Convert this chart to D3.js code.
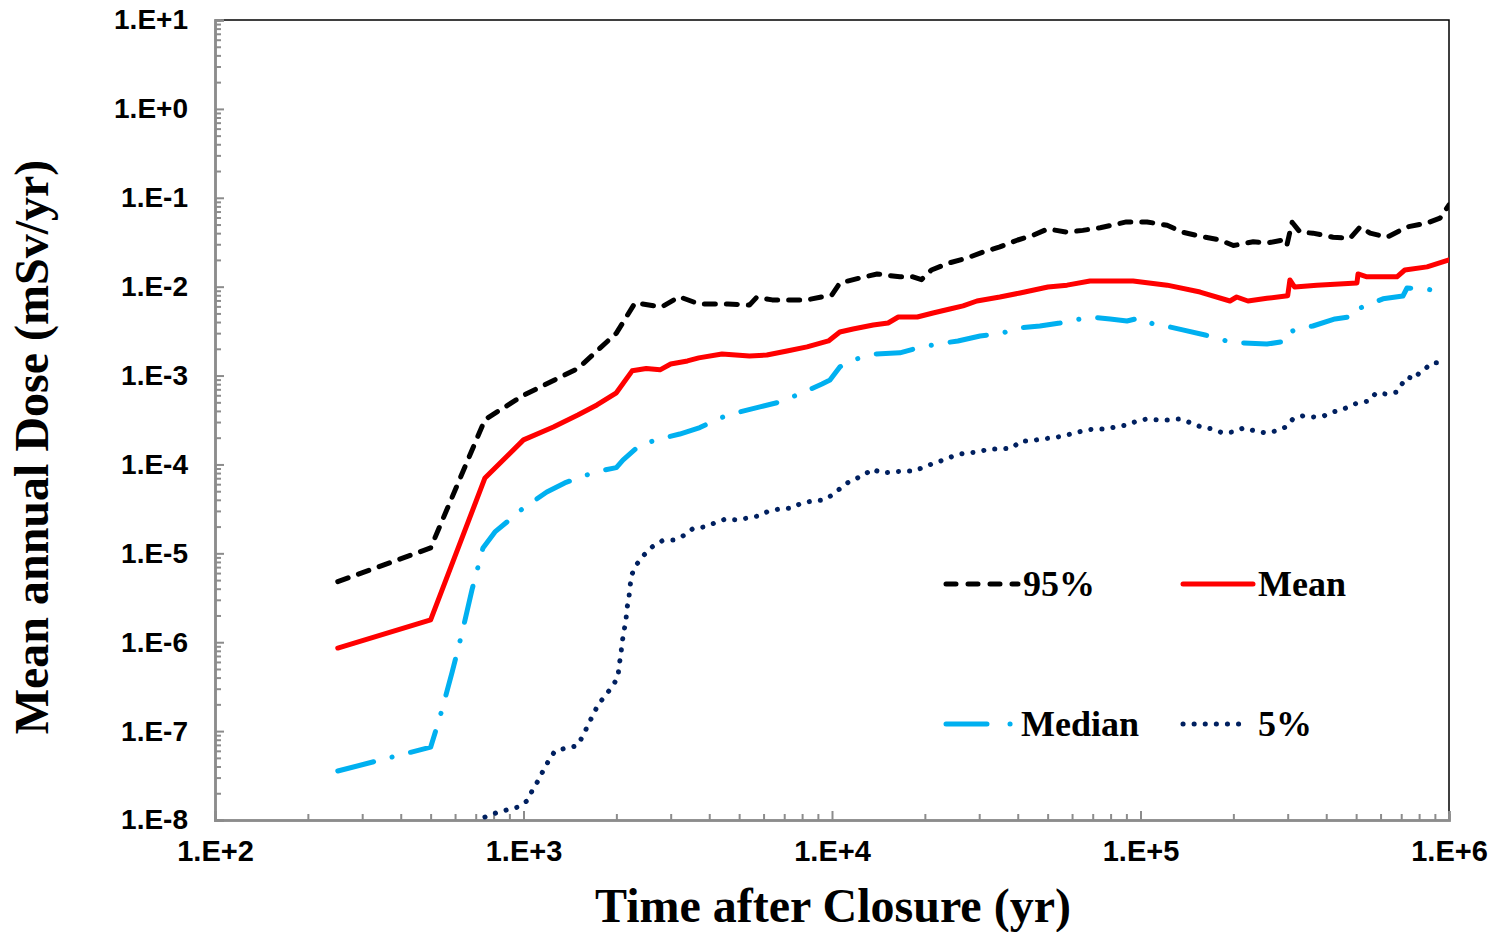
<!DOCTYPE html>
<html>
<head>
<meta charset="utf-8">
<script src="https://cdn.jsdelivr.net/npm/d3@7"></script>
<style>
  body { margin: 0; background: #fff; }
  svg { display: block; }
</style>
</head>
<body>
<div id="drawing"></div>
<script>
// values: [time (yr), dose (mSv/yr)]
var p95 = [[250,4.8e-6],[500,1.15e-5],[750,3.2e-4],[1000,6e-4],[1500,1.2e-3],[2000,3e-3],[2300,6.6e-3],[2800,5.9e-3],[3200,7.7e-3],[3700,6.4e-3],[4600,6.4e-3],[5400,6.2e-3],[5700,7.6e-3],[6400,7.1e-3],[8300,7.1e-3],[10000,8.1e-3],[10600,1.1e-2],[12300,1.25e-2],[14000,1.39e-2],[16600,1.29e-2],[18300,1.29e-2],[19500,1.2e-2],[21000,1.54e-2],[24000,1.85e-2],[27400,2.1e-2],[31000,2.46e-2],[35000,2.8e-2],[40000,3.35e-2],[45000,3.8e-2],[50000,4.46e-2],[58000,4.1e-2],[65000,4.3e-2],[74000,4.6e-2],[90000,5.35e-2],[105000,5.35e-2],[122000,4.9e-2],[137000,4.1e-2],[156000,3.7e-2],[181000,3.35e-2],[200000,2.9e-2],[232000,3.2e-2],[257000,3.1e-2],[290000,3.35e-2],[298000,2.9e-2],[310000,5.3e-2],[329000,4.1e-2],[362000,4.0e-2],[421000,3.6e-2],[478000,3.5e-2],[515000,4.7e-2],[555000,4.0e-2],[630000,3.6e-2],[731000,4.7e-2],[849000,5.2e-2],[935000,5.9e-2],[1000000,8.3e-2]];

var mean = [[250,8.6e-7],[500,1.78e-6],[750,7.05e-5],[1000,1.89e-4],[1250,2.64e-4],[1500,3.6e-4],[1730,4.67e-4],[2000,6.4e-4],[2250,1.13e-3],[2500,1.2e-3],[2770,1.16e-3],[3000,1.35e-3],[3400,1.46e-3],[3700,1.58e-3],[4400,1.75e-3],[5400,1.66e-3],[6150,1.7e-3],[7150,1.89e-3],[8300,2.1e-3],[9740,2.45e-3],[10600,3.09e-3],[11700,3.34e-3],[13600,3.7e-3],[15200,3.9e-3],[16400,4.56e-3],[18900,4.56e-3],[21250,5.06e-3],[24100,5.6e-3],[26600,6.07e-3],[29500,6.9e-3],[35000,7.65e-3],[40700,8.5e-3],[50100,9.9e-3],[57800,1.04e-2],[68600,1.16e-2],[94600,1.16e-2],[122000,1.04e-2],[156000,8.7e-3],[195000,6.9e-3],[205000,7.65e-3],[223000,6.9e-3],[257000,7.4e-3],[300000,7.9e-3],[305000,1.19e-2],[316000,9.9e-3],[373000,1.04e-2],[503000,1.1e-2],[507000,1.39e-2],[542000,1.29e-2],[678000,1.29e-2],[719000,1.54e-2],[849000,1.67e-2],[1000000,2.0e-2]];

var median = [[250,3.56e-8],[500,6.6e-8],[536,1.44e-7],[587,4.6e-7],[632,1.27e-6],[681,3.9e-6],[739,1.15e-5],[808,1.74e-5],[925,2.57e-5],[960,2.92e-5],[1190,4.9e-5],[1360,6.2e-5],[1600,7.6e-5],[1770,8.45e-5],[2000,9.2e-5],[2100,1.12e-4],[2390,1.66e-4],[2770,1.94e-4],[3210,2.2e-4],[3730,2.6e-4],[4330,3.33e-4],[5030,3.9e-4],[5840,4.44e-4],[6780,5.05e-4],[7990,6.37e-4],[9280,8.05e-4],[9850,8.9e-4],[10600,1.25e-3],[11700,1.5e-3],[13800,1.75e-3],[16600,1.8e-3],[18900,2.04e-3],[21900,2.26e-3],[25600,2.45e-3],[30200,2.79e-3],[35000,2.94e-3],[40100,3.43e-3],[47200,3.61e-3],[54800,3.9e-3],[68600,4.56e-3],[79700,4.33e-3],[90400,4.11e-3],[99600,4.45e-3],[110000,3.8e-3],[117000,3.7e-3],[137000,3.26e-3],[162000,2.86e-3],[200000,2.33e-3],[215000,2.33e-3],[257000,2.26e-3],[298000,2.45e-3],[305000,3.09e-3],[329000,3.43e-3],[362000,3.61e-3],[427000,4.33e-3],[496000,4.68e-3],[515000,5.75e-3],[611000,7.3e-3],[709000,7.85e-3],[731000,9.66e-3],[849000,9.4e-3],[935000,8.7e-3]];

var p5 = [[750,1.08e-8],[814,1.2e-8],[884,1.3e-8],[960,1.4e-8],[1026,1.64e-8],[1066,2.12e-8],[1114,2.75e-8],[1157,3.56e-8],[1210,4.74e-8],[1265,5.98e-8],[1384,6.47e-8],[1491,6.82e-8],[1559,8.83e-8],[1618,1.17e-7],[1680,1.52e-7],[1744,1.97e-7],[1838,2.49e-7],[1936,3.14e-7],[2025,4.07e-7],[2040,5.41e-7],[2070,7.38e-7],[2086,9.8e-7],[2118,1.34e-6],[2150,1.83e-6],[2166,2.43e-6],[2198,3.24e-6],[2215,4.3e-6],[2248,5.86e-6],[2333,7.6e-6],[2459,9.6e-6],[2610,1.18e-5],[2812,1.38e-5],[3052,1.41e-5],[3289,1.57e-5],[3543,1.9e-5],[3847,1.98e-5],[4175,2.2e-5],[4533,2.44e-5],[4920,2.38e-5],[5340,2.5e-5],[5800,2.64e-5],[6250,3.0e-5],[6780,3.16e-5],[7420,3.24e-5],[7990,3.69e-5],[8680,3.88e-5],[9420,3.98e-5],[10150,4.65e-5],[10850,5.73e-5],[11610,6.7e-5],[12610,7.43e-5],[13480,8.9e-5],[14530,8.0e-5],[15650,8.2e-5],[16980,8.45e-5],[18580,8.45e-5],[19870,9.4e-5],[21570,1.04e-4],[23420,1.15e-4],[25240,1.28e-4],[27390,1.35e-4],[29740,1.38e-4],[32280,1.49e-4],[35300,1.49e-4],[38330,1.53e-4],[40990,1.84e-4],[44160,1.84e-4],[47930,1.94e-4],[52040,1.99e-4],[56090,2.09e-4],[61350,2.26e-4],[66580,2.44e-4],[71210,2.51e-4],[77310,2.51e-4],[83290,2.64e-4],[90400,2.78e-4],[97430,3.08e-4],[105000,3.25e-4],[114000,3.17e-4],[123700,3.17e-4],[134300,3.25e-4],[145800,2.93e-4],[157100,2.64e-4],[170500,2.51e-4],[185100,2.26e-4],[199500,2.32e-4],[216500,2.58e-4],[235100,2.38e-4],[255200,2.26e-4],[274900,2.38e-4],[296200,2.64e-4],[312100,3.25e-4],[336300,3.52e-4],[362500,3.42e-4],[393400,3.52e-4],[420700,3.9e-4],[449900,4.1e-4],[484700,4.67e-4],[506900,4.92e-4],[550500,5.18e-4],[580000,6.37e-4],[625000,6.2e-4],[678500,6.54e-4],[704100,8.05e-4],[731000,9.64e-4],[775900,9.16e-4],[799500,1.07e-3],[836000,1.19e-3],[880900,1.39e-3],[921100,1.39e-3],[970500,1.35e-3]];

var xTicks = [1e2, 1e3, 1e4, 1e5, 1e6];
var yTicks = [1e-8, 1e-7, 1e-6, 1e-5, 1e-4, 1e-3, 1e-2, 1e-1, 1e0, 1e1];
var seriesNames = ["95%", "Mean", "Median", "5%"];

var width = 1493;
var height = 932;
var margin = {top: 20, right: 44, bottom: 112, left: 215};
var plotW = width - margin.left - margin.right;
var plotH = height - margin.top - margin.bottom;
var axisGrey = "#8c8c8c";

var styles = {
  "95%":    {color: "#000000", dash: "11,11"},
  "Mean":   {color: "#ff0000", dash: null},
  "Median": {color: "#00b0f0", dash: "37,19,0.1,19"},
  "5%":     {color: "#002060", dash: "0.1,11"}
};

var drawing = d3.select("#drawing").append("svg")
  .attr("width", width)
  .attr("height", height);

var drawingArea = drawing.append("g")
  .attr("transform", `translate(${margin.left}, ${margin.top})`);

var xScale = d3.scaleLog().domain([1e2, 1e6]).range([0, plotW]);
var yScale = d3.scaleLog().domain([1e-8, 1e1]).range([plotH, 0]);

function fmt(d) {
  var e = Math.round(Math.log10(d));
  return "1.E" + (e < 0 ? "-" : "+") + Math.abs(e);
}

// minor ticks: 2..9 in each decade
var xMinor = [], yMinor = [];
xTicks.slice(0, -1).forEach(function(t) { for (var k = 2; k < 10; k++) xMinor.push(t * k); });
yTicks.slice(0, -1).forEach(function(t) { for (var k = 2; k < 10; k++) yMinor.push(t * k); });

// top / right frame
drawingArea.append("path")
  .attr("d", `M0,0H${plotW}V${plotH}`)
  .style("fill", "none")
  .style("stroke", "#000")
  .style("stroke-width", 1.5);

var yAxisMinor = drawingArea.append("g")
  .call(d3.axisLeft(yScale).tickValues(yMinor).tickSize(-6).tickFormat(""));
var yAxis = drawingArea.append("g")
  .call(d3.axisLeft(yScale).tickValues(yTicks).tickSize(-9).tickPadding(27).tickFormat(fmt));

var xAxisMinor = drawingArea.append("g")
  .attr("transform", `translate(0, ${plotH})`)
  .call(d3.axisBottom(xScale).tickValues(xMinor).tickSize(-6).tickFormat(""));
var xAxis = drawingArea.append("g")
  .attr("transform", `translate(0, ${plotH})`)
  .call(d3.axisBottom(xScale).tickValues(xTicks).tickSize(-9).tickPadding(20).tickFormat(fmt));

[yAxisMinor, yAxis, xAxisMinor, xAxis].forEach(function(a) {
  a.selectAll("path, line").style("stroke", axisGrey).style("stroke-width", 2);
  a.select(".domain").style("stroke-width", 2.5);
});
yAxis.selectAll("text")
  .style("font-family", "Liberation Sans, Arial, sans-serif")
  .style("font-weight", "bold")
  .style("font-size", "28px")
  .style("fill", "#000");
xAxis.selectAll("text")
  .style("font-family", "Liberation Sans, Arial, sans-serif")
  .style("font-weight", "bold")
  .style("font-size", "29px")
  .style("fill", "#000");

drawingArea.append("clipPath").attr("id", "plotClip")
  .append("rect").attr("width", plotW).attr("height", plotH);

var lineGenerator = d3.line()
  .x(function(d) { return xScale(d[0]); })
  .y(function(d) { return yScale(d[1]); });

var lines = drawingArea.append("g").attr("clip-path", "url(#plotClip)");
var seriesData = {"95%": p95, "Mean": mean, "Median": median, "5%": p5};

["5%", "Median", "95%", "Mean"].forEach(function(name) {
  lines.append("path")
    .attr("d", lineGenerator(seriesData[name]))
    .style("fill", "none")
    .style("stroke", styles[name].color)
    .style("stroke-width", 5)
    .style("stroke-linecap", "round")
    .style("stroke-linejoin", "round")
    .style("stroke-dasharray", styles[name].dash);
});

// legend
var legendPos = {
  "95%":    {x: 946,  y: 584, len: 72},
  "Mean":   {x: 1183, y: 584, len: 70},
  "Median": {x: 946,  y: 724, len: 70},
  "5%":     {x: 1183, y: 724, len: 62}
};
seriesNames.forEach(function(name) {
  var p = legendPos[name];
  drawing.append("line")
    .attr("x1", p.x).attr("x2", p.x + p.len)
    .attr("y1", p.y).attr("y2", p.y)
    .style("stroke", styles[name].color)
    .style("stroke-width", 5)
    .style("stroke-linecap", "round")
    .style("stroke-dasharray", name === "Median" ? "41,23,0.1,30" : (name === "95%" ? "10,12" : styles[name].dash));
  drawing.append("text")
    .attr("x", p.x + p.len + (name === "5%" ? 13 : 5))
    .attr("y", p.y + 12)
    .text(name)
    .style("font-family", "Liberation Serif, Times New Roman, serif")
    .style("font-weight", "bold")
    .style("font-size", "36px");
});

// axis titles
drawing.append("text")
  .attr("x", margin.left + plotW / 2 + 1)
  .attr("y", 922)
  .attr("text-anchor", "middle")
  .text("Time after Closure (yr)")
  .style("font-family", "Liberation Serif, Times New Roman, serif")
  .style("font-weight", "bold")
  .style("font-size", "48px");

drawing.append("text")
  .attr("transform", "translate(48, 447) rotate(-90)")
  .attr("text-anchor", "middle")
  .text("Mean annual Dose (mSv/yr)")
  .style("font-family", "Liberation Serif, Times New Roman, serif")
  .style("font-weight", "bold")
  .style("font-size", "48px");
</script>
</body>
</html>
